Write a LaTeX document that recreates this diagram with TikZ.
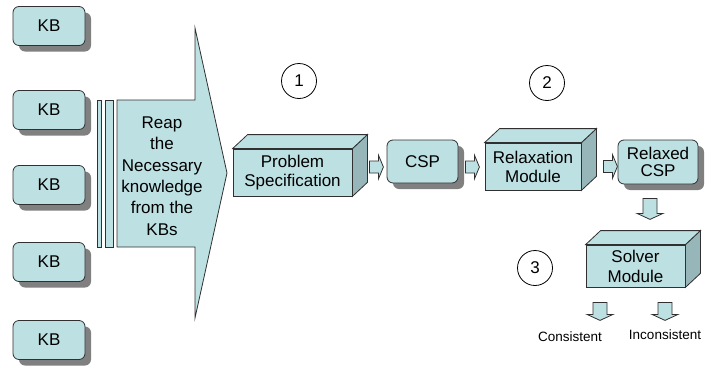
\documentclass[tikz,border=0pt]{standalone}
\usepackage{fontspec}
\setmainfont{Liberation Sans}
\usetikzlibrary{calc,shadows}
\definecolor{boxfill}{HTML}{BDE0E2}
\definecolor{boxside}{HTML}{97B6B9}
\definecolor{boxshadow}{HTML}{808080}
\definecolor{edge}{HTML}{303030}
\tikzset{
  lw/.style={line width=0.8pt},
  mainfont/.style={font=\fontsize{17}{19}\selectfont},
  shadowed/.style={drop shadow={shadow xshift=6pt,shadow yshift=-6pt,fill=boxshadow,opacity=1}},
  kb/.style={lw,draw=edge,fill=boxfill,rounded corners=6pt,minimum width=72pt,minimum height=39pt,mainfont,shadowed},
  roundbox/.style={lw,draw=edge,fill=boxfill,rounded corners=6pt,align=center,inner sep=1pt,shadowed},
  front/.style={lw,draw=edge,fill=boxfill,align=center,inner sep=1pt,mainfont},
  cubeside/.style={lw,draw=edge,fill=boxside},
  cubetop/.style={lw,draw=edge,fill=boxfill},
  blockarrow/.style={lw,draw=edge,fill=boxfill,line join=miter},
  stepnum/.style={circle,lw,draw=black,minimum size=35pt,inner sep=0pt,font=\fontsize{17}{19}\selectfont},
  outlabel/.style={font=\fontsize{13.5}{15}\selectfont},
}
% top and right faces of a box whose front face is node #1
\newcommand\cubefaces[1]{%
  \filldraw[cubeside] (#1.north east) -- ++(15,-14) -- ($(#1.south east)+(15,-14)$) -- (#1.south east) -- cycle;
  \filldraw[cubetop] (#1.north west) -- ++(15,-14) -- ($(#1.north east)+(15,-14)$) -- (#1.north east) -- cycle;}
% block arrow pointing right, starting at coordinate #1 (left end, centre line)
\newcommand\rightblock[1]{%
  \filldraw[blockarrow] (#1) ++(0,-6) -- ++(9,0) -- ++(0,-6) -- ++(5,12) -- ++(-5,12) -- ++(0,-6) -- ++(-9,0) -- cycle;}
% block arrow pointing down, starting at coordinate #1 (top end, centre line)
\newcommand\downblock[2]{%
  \filldraw[blockarrow] (#1) ++(-7,0) -- ++(0,#2) -- ++(-6,0) -- ++(13,6) -- ++(13,-6) -- ++(-6,0) -- ++(0,-#2) -- cycle;}

\begin{document}
\begin{tikzpicture}[x=1pt,y=-1pt]
\useasboundingbox (0,0) rectangle (720,367);

% knowledge bases
\node[kb] (kb1) at (49,26)  {KB};
\node[kb] (kb2) at (49,110) {KB};
\node[kb] (kb3) at (49,185) {KB};
\node[kb] (kb4) at (49,262) {KB};
\node[kb] (kb5) at (49,340) {KB};

% striped big arrow
\filldraw[blockarrow] (97,100) rectangle (101,247);
\filldraw[blockarrow] (105,100) rectangle (113,247);
\filldraw[blockarrow] (117,100) -- (195,100) -- (195,28) -- (227,173) -- (195,318) -- (195,247) -- (117,247) -- cycle;
\node[align=center,font=\fontsize{17}{21.4}\selectfont] (reap) at (162,176)
  {Reap\\the\\Necessary\\knowledge\\from the\\KBs};

% step markers
\node[stepnum] (n1) at (299,81) {1};
\node[stepnum] (n2) at (547,83) {2};
\node[stepnum] (n3) at (535,268) {3};

% modules and data
\node[front,minimum width=119pt,minimum height=47pt] (ps) at (292.5,172.5) {Problem\\Specification};
\cubefaces{ps}
\node[roundbox,minimum width=71pt,minimum height=43pt,mainfont] (csp) at (422.5,161.5) {CSP};
\node[front,minimum width=96pt,minimum height=47pt] (rm) at (533,166.5) {Relaxation\\Module};
\cubefaces{rm}
\node[roundbox,minimum width=80pt,minimum height=44pt,font=\fontsize{17}{16.5}\selectfont] (rcsp) at (658,162) {Relaxed\\CSP};
\node[front,minimum width=99pt,minimum height=42pt,font=\fontsize{17}{20}\selectfont] (sm) at (635.5,266) {Solver\\Module};
\cubefaces{sm}

% outcomes
\node[outlabel] (cons) at (570,337) {Consistent};
\node[outlabel] (incons) at (665,335) {Inconsistent};

% flow arrows
\coordinate (a1) at ($(ps.east)+(17,-5.5)$);
\coordinate (a2) at ($(csp.east)+(7,5.5)$);
\coordinate (a3) at ($(rm.east)+(22,0)$);
\rightblock{a1}
\rightblock{a2}
\rightblock{a3}
\coordinate (d1) at ($(rcsp.south)+(-8,14)$);
\coordinate (d2) at ($(sm.south -| cons)+(30,15)$);
\coordinate (d3) at ($(sm.south -| incons)+(0,15)$);
\downblock{d1}{15}
\downblock{d2}{12}
\downblock{d3}{12}
\end{tikzpicture}
\end{document}
